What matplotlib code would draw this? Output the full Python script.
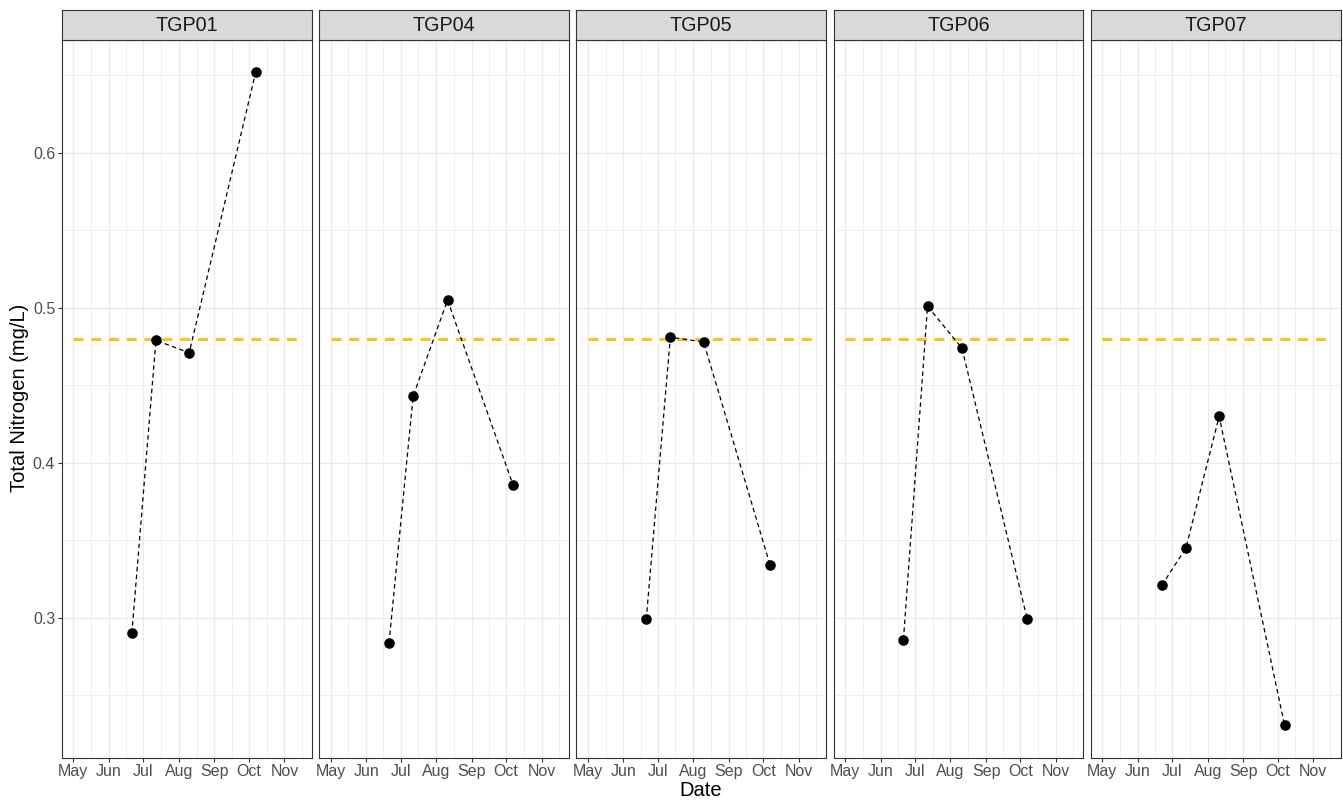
import datetime as dt
import matplotlib
matplotlib.use("Agg")
import matplotlib.pyplot as plt
import matplotlib.dates as mdates

plt.rcParams["font.family"] = ["Liberation Sans", "DejaVu Sans"]
plt.rcParams["lines.scale_dashes"] = False

# Sampling results, total nitrogen (mg/L)
sites = ["TGP01", "TGP04", "TGP05", "TGP06", "TGP07"]
sample_dates = {
    "TGP01": ["2021-06-21", "2021-07-12", "2021-08-10", "2021-10-07"],
    "TGP04": ["2021-06-21", "2021-07-12", "2021-08-11", "2021-10-07"],
    "TGP05": ["2021-06-21", "2021-07-12", "2021-08-10", "2021-10-07"],
    "TGP06": ["2021-06-21", "2021-07-12", "2021-08-11", "2021-10-07"],
    "TGP07": ["2021-06-22", "2021-07-13", "2021-08-11", "2021-10-07"],
}
tn_values = {
    "TGP01": [0.290, 0.479, 0.471, 0.652],
    "TGP04": [0.284, 0.443, 0.505, 0.386],
    "TGP05": [0.299, 0.481, 0.478, 0.334],
    "TGP06": [0.286, 0.501, 0.474, 0.299],
    "TGP07": [0.321, 0.345, 0.430, 0.231],
}
threshold = 0.48
month_labels = ["May", "Jun", "Jul", "Aug", "Sep", "Oct", "Nov"]
y_ticks = [0.3, 0.4, 0.5, 0.6]

W, H = 1343, 800
fig = plt.figure(figsize=(W / 100, H / 100), dpi=100)
fig.patch.set_facecolor("white")

# Shared scales
x_lo = mdates.date2num(dt.date(2021, 5, 1))
x_hi = mdates.date2num(dt.date(2021, 11, 15))
x_pad = 0.05 * (x_hi - x_lo)
all_vals = [v for s in sites for v in tn_values[s]]
y_lo, y_hi = min(all_vals), max(all_vals)
y_pad = 0.05 * (y_hi - y_lo)

month_starts = [mdates.date2num(dt.date(2021, m, 1)) for m in range(4, 13)]
major_x = month_starts[1:8]
minor_x = [(a + b) / 2 for a, b in zip(month_starts[:-1], month_starts[1:])]
minor_x = [m for m in minor_x if x_lo - x_pad <= m <= x_hi + x_pad]
minor_y = [0.25, 0.35, 0.45, 0.55, 0.65]

grid_col = "#EBEBEB"
border_col = "#333333"
text_col = "#4D4D4D"

panel_left0 = 62.0
panel_step = 257.2
panel_w = 249.8
panel_top = 39.5
panel_bot = 757.5
strip_top = 10.0

for i, site in enumerate(sites):
    left = panel_left0 + i * panel_step
    ax = fig.add_axes([left / W, 1 - panel_bot / H, panel_w / W, (panel_bot - panel_top) / H])
    ax.set_xlim(x_lo - x_pad, x_hi + x_pad)
    ax.set_ylim(y_lo - y_pad, y_hi + y_pad)

    for gx in minor_x:
        ax.axvline(gx, color=grid_col, lw=0.55, zorder=0)
    for gy in minor_y:
        ax.axhline(gy, color=grid_col, lw=0.55, zorder=0)
    for gx in major_x:
        ax.axvline(gx, color=grid_col, lw=1.0, zorder=0)
    for gy in y_ticks:
        ax.axhline(gy, color=grid_col, lw=1.0, zorder=0)

    ax.plot([x_lo, x_hi], [threshold, threshold], color="#FFC11F", lw=2.2,
            dashes=(7.2, 5.6), zorder=2, solid_capstyle="butt", dash_capstyle="butt")

    xd = [mdates.date2num(dt.date.fromisoformat(d)) for d in sample_dates[site]]
    ax.plot(xd, tn_values[site], color="black", lw=0.9, dashes=(3.2, 2.4), zorder=3)
    ax.plot(xd, tn_values[site], "o", color="black", ms=6.6, zorder=4)

    ax.set_xticks(major_x)
    ax.set_xticklabels(month_labels)
    ax.set_yticks(y_ticks)
    ax.tick_params(axis="both", colors=border_col, labelcolor=text_col,
                   labelsize=11.5, length=2.7, width=0.8, pad=2.2)
    if i == 0:
        ax.set_yticklabels([f"{v:.1f}" for v in y_ticks])
    else:
        ax.tick_params(axis="y", length=0, labelleft=False)
    for sp in ax.spines.values():
        sp.set_color(border_col)
        sp.set_linewidth(0.8)

    # facet strip
    sax = fig.add_axes([left / W, 1 - panel_top / H, panel_w / W, (panel_top - strip_top) / H])
    sax.set_facecolor("#D9D9D9")
    sax.set_xticks([])
    sax.set_yticks([])
    for sp in sax.spines.values():
        sp.set_color(border_col)
        sp.set_linewidth(0.8)
    sax.text(0.5, 0.48, site, ha="center", va="center", fontsize=14.2,
             color="#1A1A1A", transform=sax.transAxes)

fig.text(20 / W, 1 - 398 / H, "Total Nitrogen (mg/L)", rotation=90,
         ha="center", va="center", fontsize=14.5, color="black")
fig.text(701 / W, 1 - 790 / H, "Date", ha="center", va="center",
         fontsize=14.5, color="black")

fig.savefig("out.png", dpi=100)
